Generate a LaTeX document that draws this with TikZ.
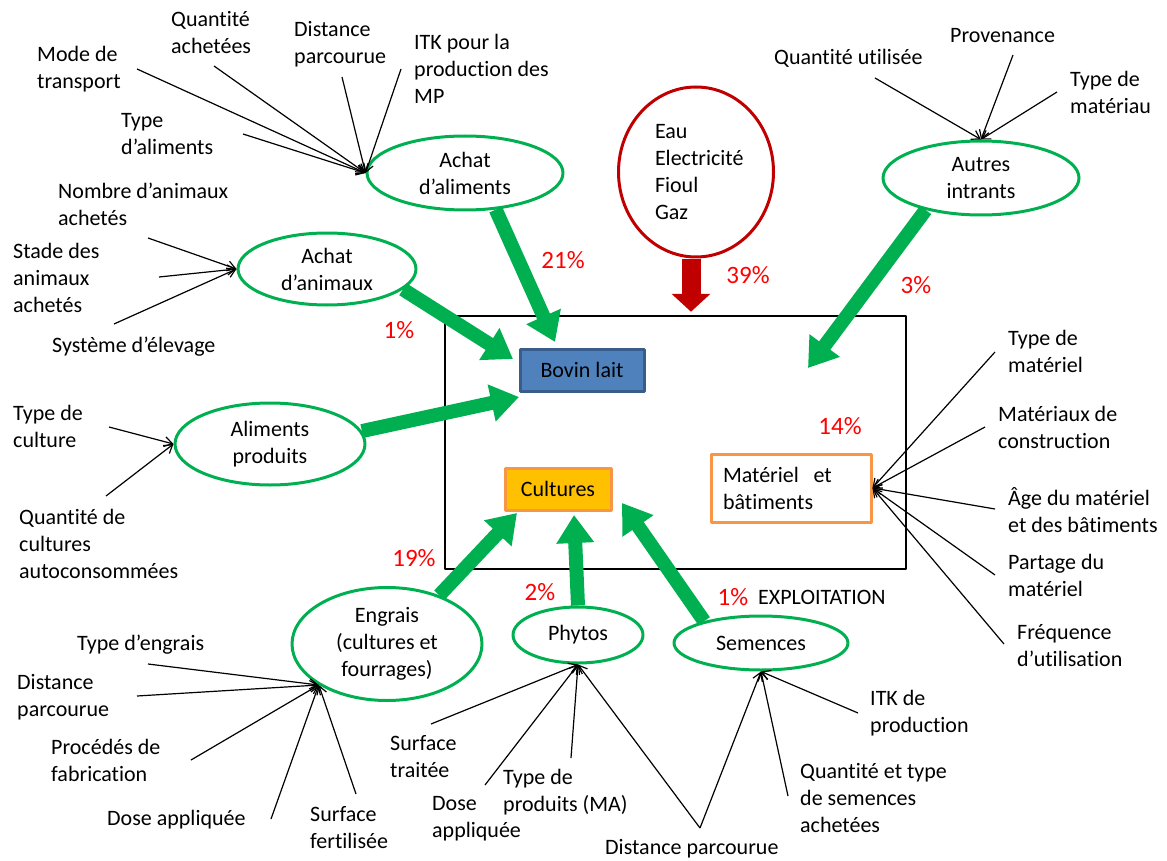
\documentclass[tikz,border=0pt]{standalone}
\usepackage{fontspec}
\setmainfont{Carlito}[Ligatures=NoCommon]
\usetikzlibrary{arrows.meta,shapes.geometric}
\definecolor{vert}{HTML}{00B050}
\definecolor{rouge}{HTML}{C00000}
\definecolor{bleu}{HTML}{4F81BD}
\definecolor{bleufonce}{HTML}{385D8A}
\definecolor{orangebord}{HTML}{F79646}
\definecolor{jaune}{HTML}{FFC000}
\definecolor{pct}{HTML}{FF0000}
\begin{document}
\begin{tikzpicture}[x=1pt,y=-1pt,line join=round,
	every node/.style={font=\fontsize{22}{27}\selectfont},
	lab/.style={inner sep=0pt,align=left,anchor=west},
	poste/.style={ellipse,draw=vert,line width=3pt,inner sep=0pt,align=center},
	boite/.style={rectangle,line width=3pt,inner sep=0pt,minimum height=42pt},
	fleche/.style={line width=1.2pt,-{Straight Barb[length=8pt,width=10pt]}},
	gfleche/.style={vert,line width=14pt,-{Triangle[length=28pt,width=36pt]}},
	rfleche/.style={rouge,line width=19pt,-{Triangle[length=18pt,width=38pt]}},
	pc/.style={text=pct,inner sep=0pt,font=\fontsize{25}{30}\selectfont}]
	\useasboundingbox (0,0) rectangle (1167,861);
	% exploitation
	\node[draw,line width=2.5pt,minimum width=461pt,minimum height=253pt,inner sep=0pt] (expl) at (675.5,442.5) {};
	\node[lab] (ex) at (758,597) {EXPLOITATION};
	\node[boite,draw=bleufonce,fill=bleu,minimum width=124pt] (bl) at (582,370) {Bovin lait};
	\node[boite,draw=orangebord,fill=jaune,minimum width=106pt] (cu) at (558,489) {Cultures};
	\node[boite,draw=orangebord,fill=white,minimum width=160pt,minimum height=68pt,text width=136pt,align=left] (mb) at (791,488) {Matériel\ \ et\\bâtiments};
	% postes
	\node[poste,minimum width=196pt,minimum height=74pt] (aa) at (465,173) {Achat\\d’aliments};
	\node[poste,minimum width=178pt,minimum height=72pt] (an) at (327,269) {Achat\\d’animaux};
	\node[poste,minimum width=190pt,minimum height=82pt] (ap) at (270,444) {Aliments\\produits};
	\node[poste,minimum width=196pt,minimum height=74pt] (ai) at (981,178) {Autres\\intrants};
	\node[poste,minimum width=190pt,minimum height=113pt] (en) at (387,644) {Engrais\\(cultures et\\fourrages)};
	\node[poste,minimum width=130pt,minimum height=56pt] (ph) at (578,635) {Phytos};
	\node[poste,minimum width=174pt,minimum height=54pt] (sm) at (761,643) {Semences};
	\node[poste,draw=rouge,align=left,text width=82pt,minimum width=155pt,minimum height=170pt] (eau) at (696,172) {Eau\\Electricité\\Fioul\\Gaz};
	% parametres
	\node[lab] (qa) at (171,33) {Quantité\\achetées};
	\node[lab] (mt) at (37,69) {Mode de\\transport};
	\node[lab] (dpa) at (294,44) {Distance\\parcourue};
	\node[lab] (itka) at (414,69) {ITK pour la\\production des\\MP};
	\node[lab] (ta) at (121,134) {Type\\d’aliments};
	\node[lab] (na) at (58,204) {Nombre d’animaux\\achetés};
	\node[lab] (sa) at (13,278) {Stade des\\animaux\\achetés};
	\node[lab] (se) at (52,347) {Système d’élevage};
	\node[lab] (tc) at (13,426) {Type de\\culture};
	\node[lab] (qc) at (19,544) {Quantité de\\cultures\\autoconsommées};
	\node[lab] (qu) at (774,58) {Quantité utilisée};
	\node[lab] (pv) at (950,36) {Provenance};
	\node[lab] (tma) at (1070,92) {Type de\\matériau};
	\node[lab] (tme) at (1008,351) {Type de\\matériel};
	\node[lab] (mc) at (998,427) {Matériaux de\\construction};
	\node[lab] (am) at (1008,510) {Âge du matériel\\et des bâtiments};
	\node[lab] (pm) at (1008,575) {Partage du\\matériel};
	\node[lab] (fu) at (1017,646) {Fréquence\\d’utilisation};
	\node[lab] (te) at (77,645) {Type d’engrais};
	\node[lab] (dpe) at (17,697) {Distance\\parcourue};
	\node[lab] (pf) at (51,760) {Procédés de\\fabrication};
	\node[lab] (dae) at (107,820) {Dose appliquée};
	\node[lab] (sf) at (310,828) {Surface\\fertilisée};
	\node[lab] (st) at (390,757) {Surface\\traitée};
	\node[lab] (dap) at (432,819) {Dose\\appliquée};
	\node[lab] (tp) at (503,792) {Type de\\produits (MA)};
	\node[lab] (dps) at (605,849) {Distance parcourue};
	\node[lab] (itks) at (870,713) {ITK de\\production};
	\node[lab] (qs) at (800,798) {Quantité et type\\de semences\\achetées};
	% pourcentages
	\node[pc] (p21) at (563,260) {21\%};
	\node[pc] (p1a) at (399,330) {1\%};
	\node[pc] (p39) at (748,275) {39\%};
	\node[pc] (p3) at (916,285) {3\%};
	\node[pc] (p14) at (840,426) {14\%};
	\node[pc] (p19) at (414,558) {19\%};
	\node[pc] (p2) at (540,592) {2\%};
	\node[pc] (p1s) at (733,597) {1\%};
	% liaisons
	\foreach \n/\x/\y in {a1/137/69,a2/214/66,a3/342/77,a4/401/69,a5/243/134}
	{\coordinate (\n) at (\x,\y); \draw[fleche] (\n) -- (aa.west);}
	\foreach \n/\x/\y in {b1/148/238,b2/159/277,b3/114/324}
	{\coordinate (\n) at (\x,\y); \draw[fleche] (\n) -- (an.west);}
	\foreach \n/\x/\y in {c1/109/427,c2/106/496}
	{\coordinate (\n) at (\x,\y); \draw[fleche] (\n) -- (ap.west);}
	\foreach \n/\x/\y in {d1/875/78,d2/1013/55,d3/1057/92}
	{\coordinate (\n) at (\x,\y); \draw[fleche] (\n) -- (ai.north);}
	\foreach \n/\x/\y in {e1/995/352,e2/985/427,e3/995/509,e4/995/575,e5/1004/644}
	{\coordinate (\n) at (\x,\y); \draw[fleche] (\n) -- (mb.east);}
	\foreach \n/\x/\y in {f1/148/664,f2/137/696,f3/191/760,f4/271/819,f5/356/794}
	{\coordinate (\n) at (\x,\y); \draw[fleche] (\n) -- (en.211);}
	\foreach \n/\x/\y in {g1/431/724,g2/485/785,g3/571/758,dv/700/828}
	{\coordinate (\n) at (\x,\y); \draw[fleche] (\n) -- (ph.south);}
	\foreach \n/\x/\y in {h1/858/713,h2/788/796}
	{\coordinate (\n) at (\x,\y); \draw[fleche] (\n) -- (sm.south);}
	\draw[fleche] (dv) -- (sm.south);
	% flux
	\coordinate (t1) at (555,342);
	\coordinate (t2) at (513,359);
	\coordinate (t3) at (519,397);
	\coordinate (t4) at (808,368);
	\coordinate (t5) at (517,513);
	\coordinate (t6) at (574,515);
	\coordinate (t7) at (622,503);
	\draw[gfleche] (aa.310) -- (t1);
	\draw[gfleche] (an.345) -- (t2);
	\draw[gfleche] (ap.8) -- (t3);
	\draw[gfleche] (ai.210) -- (t4);
	\draw[gfleche] (en.43) -- (t5);
	\draw[gfleche] (ph.north) -- (t6);
	\draw[gfleche] (sm.159) -- (t7);
	\draw[rfleche] ([xshift=-5pt]eau.south) -- ([xshift=-5pt,yshift=3pt]eau.south |- expl.north);
\end{tikzpicture}
\end{document}
